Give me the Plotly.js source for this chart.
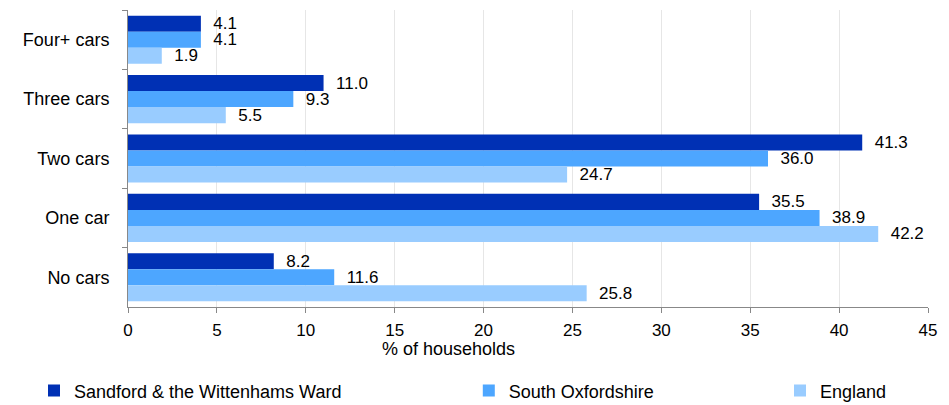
<!DOCTYPE html>
<html>
<head>
<meta charset="utf-8">
<script src="https://cdn.plot.ly/plotly-3.0.1.min.js"></script>
<style>html,body{margin:0;padding:0;background:#fff;}#chart{width:949px;height:405px;}</style>
</head>
<body>
<div id="chart"></div>
<script>
const categories = ["Four+ cars", "Three cars", "Two cars", "One car", "No cars"];
const seriesNames = ["Sandford & the Wittenhams Ward", "South Oxfordshire", "England"];
const sandford = [4.1, 11.0, 41.3, 35.5, 8.2];
const southOxon = [4.1, 9.3, 36.0, 38.9, 11.6];
const england = [1.9, 5.5, 24.7, 42.2, 25.8];
const xTicks = [0, 5, 10, 15, 20, 25, 30, 35, 40, 45];
const xTitle = "% of households";

const colors = ["#0030B4", "#4DA6FF", "#99CCFF"];
const fam = "Liberation Sans, Arial, sans-serif";
const font = {family: fam, size: 18, color: "#000"};
const labelFont = {family: fam, size: 17, color: "#000"};
const xTickFont = {family: fam, size: 17, color: "#000"};
const seriesVals = [sandford, southOxon, england];
const legendKeys = ["legend", "legend2", "legend3"];

const traces = seriesVals.map((vals, i) => ({
  type: "bar",
  orientation: "h",
  name: seriesNames[i],
  y: categories,
  x: vals,
  marker: {color: colors[i]},
  texttemplate: "\u00a0\u00a0%{x:.1f}",
  textposition: "outside",
  constraintext: "none",
  textfont: labelFont,
  cliponaxis: false,
  hoverinfo: "none",
  legend: legendKeys[i]
}));

const legendBase = {orientation: "h", yref: "container", yanchor: "middle", y: 0.035, xanchor: "left",
  font: {family: fam, size: 18, color: "#000"}, bgcolor: "rgba(0,0,0,0)"};

const layout = {
  width: 949, height: 405,
  margin: {l: 128, r: 21, t: 10, b: 98, autoexpand: false},
  paper_bgcolor: "#fff", plot_bgcolor: "#fff",
  font: font,
  barmode: "group",
  bargap: 0.19,
  bargroupgap: 0,
  showlegend: true,
  legend: Object.assign({}, legendBase, {x: -0.1175}),
  legend2: Object.assign({}, legendBase, {x: 0.426}),
  legend3: Object.assign({}, legendBase, {x: 0.815}),
  xaxis: {
    range: [0, 45], tickvals: xTicks, ticktext: xTicks.map(String),
    showgrid: true, gridcolor: "#e6e6e6", gridwidth: 1,
    showline: true, linecolor: "#888", linewidth: 1,
    ticks: "outside", ticklen: 5, tickcolor: "#888", ticklabelstandoff: 3,
    zeroline: false, tickfont: xTickFont, fixedrange: true, automargin: false
  },
  yaxis: {
    type: "category", autorange: "reversed",
    showline: true, linecolor: "#888", linewidth: 1,
    ticks: "outside", ticklen: 5, tickcolor: "#888", tickson: "boundaries",
    showgrid: false, tickfont: font, ticklabelstandoff: 14, fixedrange: true, automargin: false
  },
  annotations: [{
    text: xTitle, xref: "paper", yref: "paper", x: 0.401, y: -0.142,
    xanchor: "center", yanchor: "middle", showarrow: false, font: font
  }]
};

Plotly.newPlot("chart", traces, layout, {displayModeBar: false, staticPlot: true});
</script>
</body>
</html>
